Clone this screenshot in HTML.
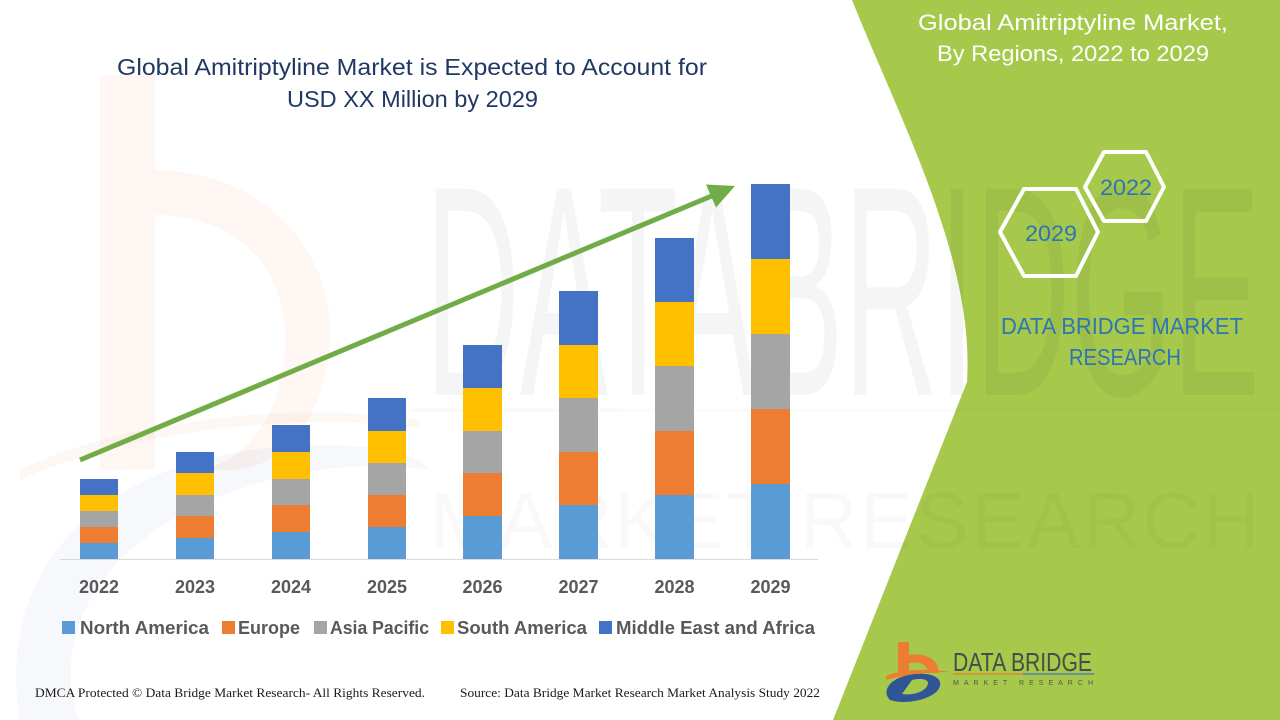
<!DOCTYPE html>
<html>
<head>
<meta charset="utf-8">
<style>
  html,body{margin:0;padding:0;background:#fff;}
  body{width:1280px;height:720px;overflow:hidden;}
  svg{display:block;}
</style>
</head>
<body>
<svg width="1280" height="720" viewBox="0 0 1280 720" xmlns="http://www.w3.org/2000/svg">
  <rect x="0" y="0" width="1280" height="720" fill="#ffffff"/>

  <!-- left faint logo watermark -->
  <g opacity="0.06">
    <rect x="100" y="75" width="55" height="395" fill="#ED7D31"/>
    <path d="M155,170 C260,170 335,250 330,340 C326,420 280,470 230,470 L200,470 C250,460 285,410 285,340 C285,260 230,215 155,215 Z" fill="#ED7D31"/>
  </g>
  <g opacity="0.045">
    <path d="M20,720 C0,600 60,500 200,460 C320,430 420,450 430,470 C340,455 200,480 120,560 C70,610 60,680 80,720 Z" fill="#2F5597"/>
  </g>
  <path d="M20,470 C120,420 300,400 420,420 L420,428 C300,412 130,430 20,480 Z" fill="#ED7D31" opacity="0.05"/>

  <!-- green panel -->
  <path d="M852,0 L1280,0 L1280,720 L833,720 L967,382 C975,260 900,120 852,0 Z" fill="#A6C84B"/>

  <!-- big watermark text -->
  <g font-family="Liberation Sans, sans-serif" fill="#000">
    <text x="425" y="395" font-size="300" opacity="0.035" textLength="835" lengthAdjust="spacingAndGlyphs">DATABRIDGE</text>
    <text x="430" y="548" font-size="80" opacity="0.018" textLength="830" lengthAdjust="spacing">MARKET RESEARCH</text>
  </g>
  <line x1="410" y1="410" x2="620" y2="410" stroke="#ED7D31" stroke-width="3" opacity="0.05"/>
  <line x1="620" y1="410" x2="1280" y2="410" stroke="#4472C4" stroke-width="3" opacity="0.03"/>

  <!-- title -->
  <g font-family="Liberation Sans, sans-serif" fill="#203864" font-size="23">
    <text x="117" y="75" textLength="590" lengthAdjust="spacingAndGlyphs">Global Amitriptyline Market is Expected to Account for</text>
    <text x="287" y="107" textLength="251" lengthAdjust="spacingAndGlyphs">USD XX Million by 2029</text>
  </g>

  <!-- axis -->
  <line x1="60" y1="559.5" x2="818" y2="559.5" stroke="#D9D9D9" stroke-width="1"/>

  <!-- bars -->
  <g>
    <rect x="80" y="543" width="38" height="16" fill="#5B9BD5"/>
    <rect x="80" y="527" width="38" height="16" fill="#ED7D31"/>
    <rect x="80" y="511" width="38" height="16" fill="#A5A5A5"/>
    <rect x="80" y="495" width="38" height="16" fill="#FFC000"/>
    <rect x="80" y="479" width="38" height="16" fill="#4472C4"/>

    <rect x="176" y="538" width="38" height="21" fill="#5B9BD5"/>
    <rect x="176" y="516" width="38" height="22" fill="#ED7D31"/>
    <rect x="176" y="495" width="38" height="21" fill="#A5A5A5"/>
    <rect x="176" y="473" width="38" height="22" fill="#FFC000"/>
    <rect x="176" y="452" width="38" height="21" fill="#4472C4"/>

    <rect x="272" y="532" width="38" height="27" fill="#5B9BD5"/>
    <rect x="272" y="505" width="38" height="27" fill="#ED7D31"/>
    <rect x="272" y="479" width="38" height="26" fill="#A5A5A5"/>
    <rect x="272" y="452" width="38" height="27" fill="#FFC000"/>
    <rect x="272" y="425" width="38" height="27" fill="#4472C4"/>

    <rect x="368" y="527" width="38" height="32" fill="#5B9BD5"/>
    <rect x="368" y="495" width="38" height="32" fill="#ED7D31"/>
    <rect x="368" y="463" width="38" height="32" fill="#A5A5A5"/>
    <rect x="368" y="431" width="38" height="32" fill="#FFC000"/>
    <rect x="368" y="398" width="38" height="33" fill="#4472C4"/>

    <rect x="463" y="516" width="39" height="43" fill="#5B9BD5"/>
    <rect x="463" y="473" width="39" height="43" fill="#ED7D31"/>
    <rect x="463" y="431" width="39" height="42" fill="#A5A5A5"/>
    <rect x="463" y="388" width="39" height="43" fill="#FFC000"/>
    <rect x="463" y="345" width="39" height="43" fill="#4472C4"/>

    <rect x="559" y="505" width="39" height="54" fill="#5B9BD5"/>
    <rect x="559" y="452" width="39" height="53" fill="#ED7D31"/>
    <rect x="559" y="398" width="39" height="54" fill="#A5A5A5"/>
    <rect x="559" y="345" width="39" height="53" fill="#FFC000"/>
    <rect x="559" y="291" width="39" height="54" fill="#4472C4"/>

    <rect x="655" y="495" width="39" height="64" fill="#5B9BD5"/>
    <rect x="655" y="431" width="39" height="64" fill="#ED7D31"/>
    <rect x="655" y="366" width="39" height="65" fill="#A5A5A5"/>
    <rect x="655" y="302" width="39" height="64" fill="#FFC000"/>
    <rect x="655" y="238" width="39" height="64" fill="#4472C4"/>

    <rect x="751" y="484" width="39" height="75" fill="#5B9BD5"/>
    <rect x="751" y="409" width="39" height="75" fill="#ED7D31"/>
    <rect x="751" y="334" width="39" height="75" fill="#A5A5A5"/>
    <rect x="751" y="259" width="39" height="75" fill="#FFC000"/>
    <rect x="751" y="184" width="39" height="75" fill="#4472C4"/>
  </g>

  <!-- arrow -->
  <line x1="80" y1="460" x2="714" y2="195" stroke="#70AD47" stroke-width="5"/>
  <polygon points="735,186 716,207.5 706,184.5" fill="#70AD47"/>

  <!-- year labels -->
  <g font-family="Liberation Sans, sans-serif" font-weight="bold" font-size="18" fill="#595959" text-anchor="middle">
    <text x="99" y="593">2022</text>
    <text x="195" y="593">2023</text>
    <text x="291" y="593">2024</text>
    <text x="387" y="593">2025</text>
    <text x="482.5" y="593">2026</text>
    <text x="578.5" y="593">2027</text>
    <text x="674.5" y="593">2028</text>
    <text x="770.5" y="593">2029</text>
  </g>

  <!-- legend -->
  <g font-family="Liberation Sans, sans-serif" font-weight="bold" font-size="18" fill="#595959">
    <rect x="62" y="621" width="13" height="13" fill="#5B9BD5"/>
    <text x="80" y="634" textLength="129" lengthAdjust="spacingAndGlyphs">North America</text>
    <rect x="222" y="621" width="13" height="13" fill="#ED7D31"/>
    <text x="238" y="634" textLength="62" lengthAdjust="spacingAndGlyphs">Europe</text>
    <rect x="314" y="621" width="13" height="13" fill="#A5A5A5"/>
    <text x="330" y="634" textLength="99" lengthAdjust="spacingAndGlyphs">Asia Pacific</text>
    <rect x="441" y="621" width="13" height="13" fill="#FFC000"/>
    <text x="457" y="634" textLength="130" lengthAdjust="spacingAndGlyphs">South America</text>
    <rect x="599" y="621" width="13" height="13" fill="#4472C4"/>
    <text x="616" y="634" textLength="199" lengthAdjust="spacingAndGlyphs">Middle East and Africa</text>
  </g>

  <!-- footer -->
  <g font-family="Liberation Serif, serif" font-size="13" fill="#1a1a1a">
    <text x="35" y="697" textLength="390" lengthAdjust="spacingAndGlyphs">DMCA Protected © Data Bridge Market Research- All Rights Reserved.</text>
    <text x="460" y="697" textLength="360" lengthAdjust="spacingAndGlyphs">Source: Data Bridge Market Research Market Analysis Study 2022</text>
  </g>

  <!-- right panel text -->
  <g font-family="Liberation Sans, sans-serif" fill="#ffffff" font-size="22">
    <text x="918" y="30" textLength="310" lengthAdjust="spacingAndGlyphs">Global Amitriptyline Market,</text>
    <text x="937" y="61" textLength="272" lengthAdjust="spacingAndGlyphs">By Regions, 2022 to 2029</text>
  </g>

  <!-- hexagons -->
  <g fill="none" stroke="#ffffff" stroke-width="4" stroke-linejoin="round">
    <polygon points="1085,187 1104,152 1146,152 1164,187 1146,221 1104,221"/>
    <polygon points="1000,232 1024,189 1076,189 1098,232 1076,276 1024,276"/>
  </g>
  <g font-family="Liberation Sans, sans-serif" fill="#2E75B6" font-size="22" text-anchor="middle">
    <text x="1126" y="195" textLength="52" lengthAdjust="spacingAndGlyphs">2022</text>
    <text x="1051" y="241" textLength="52" lengthAdjust="spacingAndGlyphs">2029</text>
  </g>
  <g font-family="Liberation Sans, sans-serif" fill="#2E75B6" font-size="23">
    <text x="1001" y="334" textLength="242" lengthAdjust="spacingAndGlyphs">DATA BRIDGE MARKET</text>
    <text x="1069" y="365" textLength="112" lengthAdjust="spacingAndGlyphs">RESEARCH</text>
  </g>

  <!-- bottom logo -->
  <g>
    <rect x="898" y="642" width="11" height="30" fill="#ED7D31"/>
    <path d="M909,655 C925,652 940,660 938,673 L928,673 C928,665 920,661 909,663 Z" fill="#ED7D31"/>
    <path d="M886,676 C900,670 925,668 950,672 C925,672 905,675 886,680 Z" fill="#ED7D31"/>
    <path d="M890,700 C880,690 892,676 915,674 C935,672 945,680 938,690 C930,700 905,705 890,700 Z M902,694 C915,696 928,690 928,683 C928,679 920,678 912,680 Z" fill="#2F5597" fill-rule="evenodd"/>
    <text x="953" y="671" font-family="Liberation Sans, sans-serif" font-size="26" fill="#4a4a4a" textLength="139" lengthAdjust="spacingAndGlyphs">DATA BRIDGE</text>
    <line x1="953" y1="674" x2="1023" y2="674" stroke="#ED7D31" stroke-width="1.2"/>
    <line x1="1023" y1="674" x2="1094" y2="674" stroke="#4472C4" stroke-width="1.2"/>
    <text x="953" y="685" font-family="Liberation Sans, sans-serif" font-size="7" fill="#555" textLength="140" lengthAdjust="spacing">MARKET RESEARCH</text>
  </g>
</svg>
</body>
</html>
